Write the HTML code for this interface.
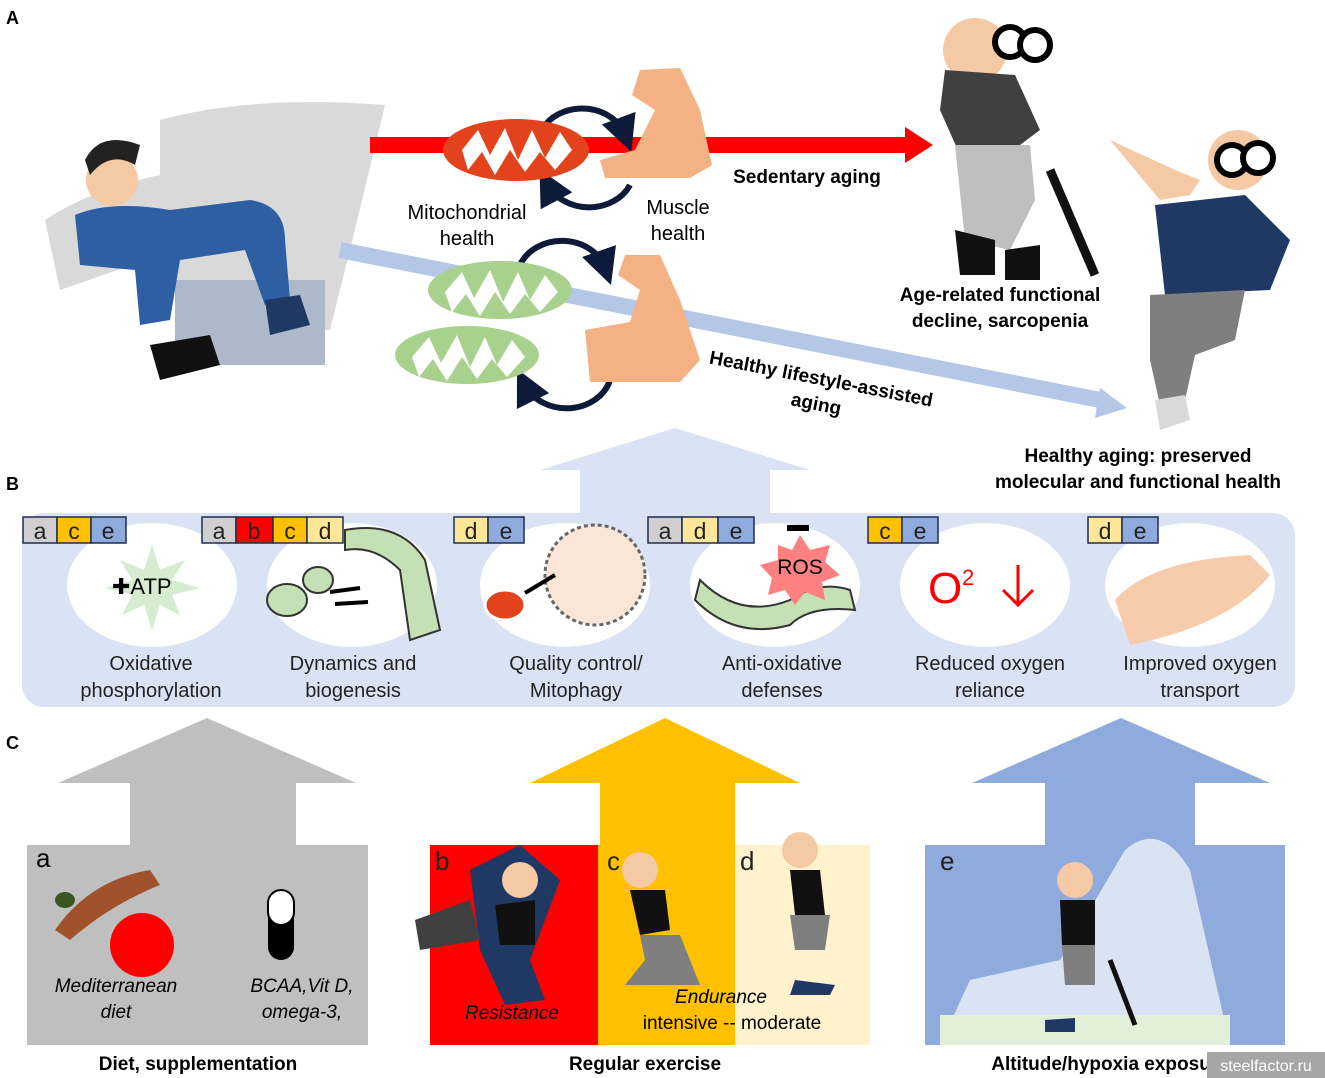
<!DOCTYPE html>
<html><head><meta charset="utf-8"><style>
html,body{margin:0;padding:0;background:#fff}
svg{display:block}
text{font-family:"Liberation Sans","DejaVu Sans",sans-serif}
</style></head><body>
<svg width="1325" height="1078" viewBox="0 0 1325 1078" xmlns="http://www.w3.org/2000/svg">
<defs>
<marker id="ah" markerWidth="6" markerHeight="6" refX="3" refY="3" orient="auto"><path d="M0,0L6,3L0,6z" fill="#0d1a3a"/></marker>
</defs>
<rect width="1325" height="1078" fill="#fff"/>
<text x="6" y="24" font-size="18" font-weight="bold">A</text>
<text x="6" y="490" font-size="18" font-weight="bold">B</text>
<text x="6" y="749" font-size="18" font-weight="bold">C</text>

<!-- couch -->
<path d="M160,120 Q250,95 385,105 L350,250 L330,330 L180,330 L175,250 L60,290 L45,220 Q90,190 160,175 Z" fill="#d9d9d9"/>
<rect x="175" y="280" width="150" height="85" fill="#adb9ca"/>
<!-- sedentary man -->
<circle cx="112" cy="180" r="26" fill="#f4c9a4"/>
<path d="M85,160 Q100,130 140,145 L135,165 Q110,150 90,175Z" fill="#222"/>
<path d="M75,215 Q110,200 170,210 L250,200 Q285,205 285,240 L290,300 L265,305 L245,250 L180,260 L170,320 L140,325 L135,270 L80,265 Z" fill="#2e5fa3"/>
<path d="M150,345 L210,335 L220,365 L160,380Z" fill="#111"/>
<path d="M265,300 L300,295 L310,325 L270,335Z" fill="#203864"/>

<!-- red arrow -->
<rect x="370" y="137" width="537" height="16" fill="#ff0000"/>
<path d="M905,127 L933,145 L905,163Z" fill="#ff0000"/>
<!-- blue diagonal arrow -->
<line x1="340" y1="250" x2="1105" y2="401" stroke="#b4c7e7" stroke-width="16"/>
<path d="M1100,388 L1127,408 L1095,418Z" fill="#b4c7e7"/>

<!-- cycles -->
<path d="M545,125 A45,38 0 0 1 625,135" fill="none" stroke="#0d1a3a" stroke-width="6" marker-end="url(#ah)"/>
<path d="M630,185 A45,38 0 0 1 548,185" fill="none" stroke="#0d1a3a" stroke-width="6" marker-end="url(#ah)"/>
<path d="M520,265 A45,38 0 0 1 605,268" fill="none" stroke="#0d1a3a" stroke-width="6" marker-end="url(#ah)"/>
<path d="M610,380 A45,38 0 0 1 525,385" fill="none" stroke="#0d1a3a" stroke-width="6" marker-end="url(#ah)"/>
<!-- mitochondria -->
<ellipse cx="516" cy="150" rx="73" ry="31" fill="#e2431d"/>
<path d="M462,150 L478,130 L490,155 L505,128 L518,160 L532,130 L545,158 L560,132 L572,150 L555,170 L540,152 L525,172 L510,150 L495,175 L482,152 L468,170Z" fill="#fff"/>
<ellipse cx="500" cy="290" rx="72" ry="29" fill="#a9d18e"/>
<path d="M445,292 L462,272 L474,298 L490,270 L503,302 L518,272 L530,300 L545,275 L558,292 L540,312 L525,294 L510,314 L495,292 L480,316 L466,294 L452,312Z" fill="#fff"/>
<ellipse cx="467" cy="355" rx="72" ry="29" fill="#a9d18e"/>
<path d="M412,357 L429,337 L441,363 L457,335 L470,367 L485,337 L497,365 L512,340 L525,357 L507,377 L492,359 L477,379 L462,357 L447,381 L433,359 L419,377Z" fill="#fff"/>
<!-- arms -->
<path d="M640,70 L680,68 L700,110 L712,165 L690,178 L605,178 L600,160 L635,150 L655,110 L632,95Z" fill="#f4b183"/>
<path d="M625,255 L660,255 L680,300 L700,360 L680,382 L590,382 L585,330 L630,322 L640,290 L618,275Z" fill="#f4b183"/>

<text x="467" y="219" font-size="20" text-anchor="middle">Mitochondrial</text>
<text x="467" y="245" font-size="20" text-anchor="middle">health</text>
<text x="678" y="214" font-size="20" text-anchor="middle">Muscle</text>
<text x="678" y="240" font-size="20" text-anchor="middle">health</text>
<text x="807" y="183" font-size="19" font-weight="bold" text-anchor="middle">Sedentary aging</text>
<text x="820" y="385" font-size="19" font-weight="bold" text-anchor="middle" transform="rotate(11 820 385)">Healthy lifestyle-assisted</text>
<text x="815" y="410" font-size="19" font-weight="bold" text-anchor="middle" transform="rotate(11 815 410)">aging</text>

<!-- old man sedentary -->
<circle cx="975" cy="50" r="32" fill="#f4c9a4"/>
<circle cx="1010" cy="42" r="15" fill="#fff" stroke="#000" stroke-width="6"/>
<circle cx="1035" cy="45" r="15" fill="#fff" stroke="#000" stroke-width="6"/>
<path d="M945,70 L1015,75 L1040,130 L1000,160 L960,155 L940,110Z" fill="#404040"/>
<path d="M955,145 L1030,145 L1035,200 L1010,250 L965,240Z" fill="#bfbfbf"/>
<path d="M955,230 L995,240 L995,275 L960,275Z" fill="#111"/>
<path d="M1005,250 L1040,245 L1040,280 L1005,280Z" fill="#111"/>
<line x1="1050" y1="170" x2="1095" y2="275" stroke="#111" stroke-width="9"/>
<text x="1000" y="301" font-size="19" font-weight="bold" text-anchor="middle">Age-related functional</text>
<text x="1000" y="327" font-size="19" font-weight="bold" text-anchor="middle">decline, sarcopenia</text>
<!-- old man healthy -->
<circle cx="1238" cy="160" r="30" fill="#f4c9a4"/>
<circle cx="1232" cy="160" r="15" fill="#fff" stroke="#000" stroke-width="6"/>
<circle cx="1258" cy="158" r="15" fill="#fff" stroke="#000" stroke-width="6"/>
<path d="M1110,140 L1160,200 L1190,195 L1200,180 L1175,170 Z" fill="#f4c9a4"/>
<path d="M1155,205 L1245,195 L1290,240 L1270,290 L1165,295Z" fill="#203864"/>
<path d="M1150,295 L1245,290 L1235,340 L1195,355 L1185,400 L1160,405 L1150,360Z" fill="#7f7f7f"/>
<path d="M1155,400 L1185,395 L1190,420 L1160,430Z" fill="#d9d9d9"/>
<text x="1138" y="462" font-size="19" font-weight="bold" text-anchor="middle">Healthy aging: preserved</text>
<text x="1138" y="488" font-size="19" font-weight="bold" text-anchor="middle">molecular and functional health</text>

<!-- light blue up arrow -->
<path d="M540,470 L675,428 L810,470 L770,470 L770,515 L580,515 L580,470Z" fill="#dae3f3"/>

<!-- panel B -->
<rect x="22" y="513" width="1273" height="194" rx="22" fill="#dae3f3"/>
<g fill="#fff">
<ellipse cx="152" cy="585" rx="85" ry="62"/>
<ellipse cx="352" cy="585" rx="85" ry="62"/>
<ellipse cx="565" cy="585" rx="85" ry="62"/>
<ellipse cx="775" cy="585" rx="85" ry="62"/>
<ellipse cx="985" cy="585" rx="85" ry="62"/>
<ellipse cx="1190" cy="585" rx="85" ry="62"/>
</g>
<path d="M152,545 L160,570 L185,560 L172,580 L200,588 L172,595 L180,615 L160,605 L152,630 L144,605 L122,615 L132,595 L105,588 L132,580 L120,560 L144,570Z" fill="#d5ecd0"/>
<text x="112" y="594" font-size="22">✚ATP</text>
<!-- dynamics -->
<path d="M345,530 Q400,520 425,560 L440,630 L410,640 L400,570 Q375,545 345,550Z" fill="#c5e0b4" stroke="#333" stroke-width="2"/>
<ellipse cx="318" cy="580" rx="15" ry="13" fill="#c5e0b4" stroke="#333" stroke-width="2"/>
<ellipse cx="287" cy="600" rx="20" ry="16" fill="#c5e0b4" stroke="#333" stroke-width="2"/>
<path d="M330,592 L360,588 M335,604 L368,602" stroke="#000" stroke-width="4"/>
<!-- mitophagy -->
<circle cx="595" cy="575" r="50" fill="#fbe5d6" stroke="#666" stroke-width="3" stroke-dasharray="4 3"/>
<ellipse cx="505" cy="605" rx="20" ry="15" fill="#e2431d" stroke="#fff" stroke-width="3"/>
<line x1="525" y1="593" x2="555" y2="575" stroke="#000" stroke-width="4"/>
<!-- ROS -->
<path d="M700,580 Q740,620 790,600 Q820,580 850,590 L855,610 Q810,605 790,625 Q735,640 695,600Z" fill="#c5e0b4" stroke="#333" stroke-width="2"/>
<path d="M800,535 L810,550 L830,545 L825,562 L840,575 L822,582 L825,600 L805,592 L795,605 L785,590 L768,595 L772,578 L760,565 L778,560 L778,545 L792,550Z" fill="#ff8080"/>
<text x="800" y="574" font-size="21" text-anchor="middle">ROS</text>
<rect x="787" y="525" width="22" height="6" fill="#000"/>
<text x="928" y="603" font-size="44" fill="#ff0000">O</text>
<text x="962" y="585" font-size="22" fill="#ff0000">2</text>
<path d="M1018,565 L1018,605 M1003,590 L1018,605 L1033,590" stroke="#ff0000" stroke-width="3" fill="none"/>
<path d="M1115,600 Q1150,560 1250,555 L1270,575 Q1230,625 1130,645Z" fill="#f8cbad"/>

<!-- letter boxes -->
<g font-size="22" text-anchor="middle" stroke="#1f2d50" stroke-width="1.5">
<rect x="23" y="517" width="34" height="26" fill="#d0cece"/><rect x="57" y="517" width="34" height="26" fill="#ffc000"/><rect x="91" y="517" width="35" height="26" fill="#8faadc"/>
<rect x="202" y="517" width="34" height="26" fill="#d0cece"/><rect x="236" y="517" width="37" height="26" fill="#ff0000"/><rect x="273" y="517" width="34" height="26" fill="#ffc000"/><rect x="307" y="517" width="36" height="26" fill="#ffe699"/>
<rect x="454" y="517" width="34" height="26" fill="#ffe699"/><rect x="488" y="517" width="36" height="26" fill="#8faadc"/>
<rect x="648" y="517" width="34" height="26" fill="#d0cece"/><rect x="682" y="517" width="36" height="26" fill="#ffe699"/><rect x="718" y="517" width="36" height="26" fill="#8faadc"/>
<rect x="868" y="517" width="34" height="26" fill="#ffc000"/><rect x="902" y="517" width="36" height="26" fill="#8faadc"/>
<rect x="1088" y="517" width="34" height="26" fill="#ffe699"/><rect x="1122" y="517" width="36" height="26" fill="#8faadc"/>
</g>
<g font-size="23" text-anchor="middle" fill="#222">
<text x="40" y="539">a</text><text x="74" y="539">c</text><text x="108" y="539">e</text>
<text x="219" y="539">a</text><text x="254" y="539">b</text><text x="290" y="539">c</text><text x="325" y="539">d</text>
<text x="471" y="539">d</text><text x="506" y="539">e</text>
<text x="665" y="539">a</text><text x="700" y="539">d</text><text x="736" y="539">e</text>
<text x="885" y="539">c</text><text x="920" y="539">e</text>
<text x="1105" y="539">d</text><text x="1140" y="539">e</text>
</g>
<g font-size="20" text-anchor="middle" fill="#222">
<text x="151" y="670">Oxidative</text><text x="151" y="697">phosphorylation</text>
<text x="353" y="670">Dynamics and</text><text x="353" y="697">biogenesis</text>
<text x="576" y="670">Quality control/</text><text x="576" y="697">Mitophagy</text>
<text x="782" y="670">Anti-oxidative</text><text x="782" y="697">defenses</text>
<text x="990" y="670">Reduced oxygen</text><text x="990" y="697">reliance</text>
<text x="1200" y="670">Improved oxygen</text><text x="1200" y="697">transport</text>
</g>

<!-- section C arrows -->
<path d="M58,783 L207,718 L356,783 L296,783 L296,845 L130,845 L130,783Z" fill="#bfbfbf"/>
<rect x="27" y="845" width="341" height="200" fill="#bfbfbf"/>
<path d="M530,783 L665,718 L800,783 L735,783 L735,845 L600,845 L600,783Z" fill="#ffc000"/>
<rect x="430" y="845" width="168" height="200" fill="#ff0000"/>
<rect x="598" y="845" width="137" height="200" fill="#ffc000"/>
<rect x="735" y="845" width="135" height="200" fill="#fff2cc"/>
<path d="M972,783 L1121,718 L1270,783 L1195,783 L1195,845 L1045,845 L1045,783Z" fill="#8faadc"/>
<rect x="925" y="845" width="360" height="200" fill="#8faadc"/>
<path d="M940,1045 L970,980 L1060,960 L1125,850 Q1160,820 1190,870 L1230,1045Z" fill="#dae3f3"/>
<rect x="940" y="1015" width="290" height="30" fill="#e2f0d9"/>

<!-- diet -->
<path d="M55,930 Q90,880 150,870 L160,885 Q110,905 70,940Z" fill="#a0522d"/>
<circle cx="142" cy="945" r="32" fill="#ff0000"/>
<ellipse cx="65" cy="900" rx="10" ry="8" fill="#385723"/>
<rect x="268" y="890" width="26" height="70" rx="13" fill="#000"/>
<rect x="268" y="890" width="26" height="35" rx="13" fill="#fff" stroke="#000" stroke-width="2"/>
<text x="36" y="867" font-size="26">a</text>
<text x="116" y="992" font-size="19" font-style="italic" text-anchor="middle">Mediterranean</text>
<text x="116" y="1018" font-size="19" font-style="italic" text-anchor="middle">diet</text>
<text x="302" y="992" font-size="19" font-style="italic" text-anchor="middle">BCAA,Vit D,</text>
<text x="302" y="1018" font-size="19" font-style="italic" text-anchor="middle">omega-3,</text>

<!-- exercise people -->
<path d="M470,870 L520,845 L560,880 L530,960 L545,1000 L505,1005 L480,950Z" fill="#203864"/>
<path d="M415,920 L470,900 L480,940 L420,950Z" fill="#404040"/>
<circle cx="520" cy="880" r="18" fill="#f4c9a4"/>
<path d="M495,905 L535,900 L535,945 L500,945Z" fill="#111"/>
<circle cx="640" cy="870" r="18" fill="#f4c9a4"/>
<path d="M630,890 L665,890 L670,930 L640,935Z" fill="#111"/>
<path d="M640,935 L680,935 L700,985 L625,985 L645,960Z" fill="#7f7f7f"/>
<circle cx="800" cy="850" r="18" fill="#f4c9a4"/>
<path d="M790,870 L820,870 L825,915 L795,915Z" fill="#111"/>
<path d="M790,915 L830,915 L825,950 L795,950Z" fill="#7f7f7f"/>
<path d="M795,980 L835,985 L830,995 L790,995Z" fill="#203864"/>
<text x="435" y="870" font-size="26" fill="#222">b</text>
<text x="607" y="870" font-size="26" fill="#222">c</text>
<text x="740" y="870" font-size="26" fill="#222">d</text>
<text x="512" y="1019" font-size="19" font-style="italic" text-anchor="middle">Resistance</text>
<text x="721" y="1003" font-size="19" font-style="italic" text-anchor="middle">Endurance</text>
<text x="732" y="1029" font-size="19" text-anchor="middle">intensive -- moderate</text>

<!-- altitude -->
<circle cx="1075" cy="880" r="18" fill="#f4c9a4"/>
<path d="M1060,900 L1095,900 L1095,945 L1062,945Z" fill="#111"/>
<path d="M1062,945 L1095,945 L1095,985 L1065,985Z" fill="#7f7f7f"/>
<line x1="1110" y1="960" x2="1135" y2="1025" stroke="#111" stroke-width="5"/>
<path d="M1045,1020 L1075,1018 L1075,1032 L1045,1032Z" fill="#203864"/>
<text x="940" y="870" font-size="26" fill="#222">e</text>

<text x="198" y="1070" font-size="19" font-weight="bold" text-anchor="middle">Diet, supplementation</text>
<text x="645" y="1070" font-size="19" font-weight="bold" text-anchor="middle">Regular exercise</text>
<text x="1110" y="1070" font-size="19" font-weight="bold" text-anchor="middle">Altitude/hypoxia exposure</text>
<rect x="1207" y="1052" width="118" height="26" fill="#a6a6a6"/>
<text x="1266" y="1071" font-size="16" fill="#fff" text-anchor="middle">steelfactor.ru</text>
</svg>
</body></html>
